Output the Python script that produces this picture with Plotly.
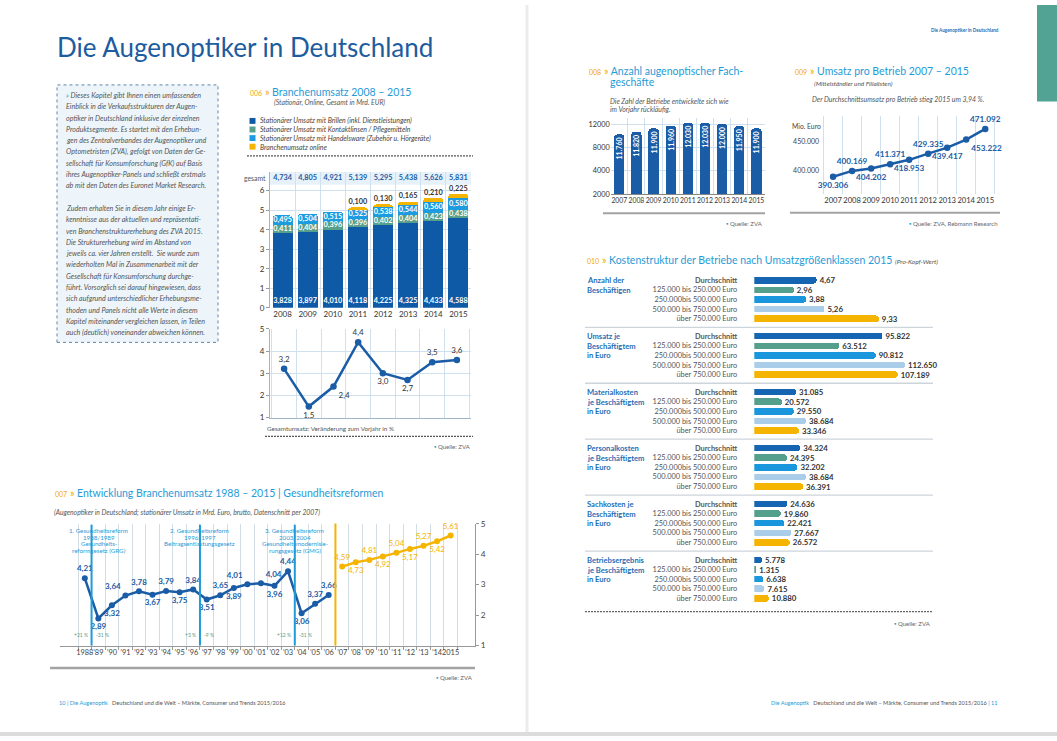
import numpy as np
import plotly.graph_objects as go

W, H = 1057, 741


def px(x):
    return x / W


def py(y):
    return 1 - y / H


FONT = "Lato"
TITLE_BLUE = "#1f9bd7"
ORANGE = "#f2a900"
NAVY = "#1a5ca5"
GRID = "#cfe0ee"
GRAY = "#4a4a4a"
YELLOW = "#f5b400"

# ---------------- DATA ----------------
# 006 Branchenumsatz 2008-2015 (Mrd. EUR)
YEARS_006 = ["2008", "2009", "2010", "2011", "2012", "2013", "2014", "2015"]
BRILLEN = [3.828, 3.897, 4.010, 4.118, 4.225, 4.325, 4.433, 4.588]
KONTAKTLINSEN = [0.411, 0.404, 0.396, 0.396, 0.402, 0.404, 0.423, 0.438]
HANDELSWARE = [0.495, 0.504, 0.515, 0.525, 0.538, 0.544, 0.560, 0.580]
ONLINE = [None, None, None, 0.100, 0.130, 0.165, 0.210, 0.225]
GESAMT = [4.734, 4.805, 4.921, 5.139, 5.295, 5.438, 5.626, 5.831]
VERAENDERUNG = [3.2, 1.5, 2.4, 4.4, 3.0, 2.7, 3.5, 3.6]
LEGEND_006 = [
    "Stationärer Umsatz mit Brillen (inkl. Dienstleistungen)",
    "Stationärer Umsatz mit Kontaktlinsen / Pflegemitteln",
    "Stationärer Umsatz mit Handelsware (Zubehör u. Hörgeräte)",
    "Branchenumsatz online",
]

# 007 Entwicklung Branchenumsatz 1988-2015
LABELS_007 = ["1988", "’89", "’90", "’91", "’92", "’93", "’94", "’95", "’96", "’97",
              "’98", "’99", "’00", "’01", "’02", "’03", "’04", "’05", "’06", "’07",
              "’08", "’09", "’10", "’11", "’12", "’13", "’14", "2015"]
UMSATZ_1988_2006 = [4.21, 2.89, 3.32, 3.64, 3.78, 3.67, 3.79, 3.75, 3.84, 3.51,
                    3.65, 3.89, 4.01, 4.04, 3.96, 4.44, 3.06, 3.37, 3.66]
UMSATZ_2007_2015 = [4.59, 4.73, 4.81, 4.92, 5.04, 5.17, 5.27, 5.42, 5.61]
Y_TICKS_007 = ["1", "2", "3", "4", "5"]
REFORM_TEXT = [
    ["1. Gesundheitsreform", "1988/1989", "Gesundheits-", "reformgesetz (GRG)"],
    ["2. Gesundheitsreform", "1996/1997", "Beitragsentlastungsgesetz"],
    ["3. Gesundheitsreform", "2003/2004", "Gesundheitsmodernisie-", "rungsgesetz (GMG)"],
]
REFORM_AFTER = ["1988", "’96", "’03"]
REFORM_PCT = [("+21 %", "-31 %"), ("+3 %", "-9 %"), ("+12 %", "-31 %")]

# 008 Anzahl augenoptischer Fachgeschäfte
YEARS_008 = ["2007", "2008", "2009", "2010", "2011", "2012", "2013", "2014", "2015"]
BETRIEBE = [11760, 11820, 11900, 11960, 12030, 12030, 12000, 11950, 11900]
TICKS_008 = ["2000", "4000", "8000", "12000"]

# 009 Umsatz pro Betrieb
YEARS_009 = YEARS_008
UMSATZ_BETRIEB = [390306, 400169, 404202, 411371, 418953, 429335, 439417, 453222, 471092]

# 010 Kostenstruktur
ROW_LABELS = ["Durchschnitt", "125.000 bis 250.000 Euro", "250.000bis 500.000 Euro",
              "500.000 bis 750.000 Euro", "über 750.000 Euro"]
GROUP_LABELS = [
    ["Anzahl der", "Beschäftigen"],
    ["Umsatz je", "Beschäftigtem", "in Euro"],
    ["Materialkosten", "je Beschäftigtem", "in Euro"],
    ["Personalkosten", "je Beschäftigtem", "in Euro"],
    ["Sachkosten je", "Beschäftigtem", "in Euro"],
    ["Betriebsergebnis", "je Beschäftigtem", "in Euro"],
]
ANZAHL = [4.67, 2.96, 3.88, 5.26, 9.33]
UMSATZ_JE = [95822, 63512, 90812, 112650, 107189]
MATERIAL = [31085, 20572, 29550, 38684, 33346]
PERSONAL = [34324, 24395, 32202, 38684, 36391]
SACHKOSTEN = [24636, 19860, 22421, 27667, 26572]
ERGEBNIS = [5778, 1315, 6638, 7615, 10880]
GROUP_VALUES = [ANZAHL, UMSATZ_JE, MATERIAL, PERSONAL, SACHKOSTEN, ERGEBNIS]

TEXT_P1 = [
    "Dieses Kapitel gibt Ihnen einen umfassenden",
    "Einblick in die Verkaufsstrukturen der Augen-",
    "optiker in Deutschland inklusive der einzelnen",
    "Produktsegmente. Es startet mit den Erhebun-",
    "gen des Zentralverbandes der Augenoptiker und",
    "Optometristen (ZVA), gefolgt von Daten der Ge-",
    "sellschaft für Konsumforschung (GfK) auf Basis",
    "ihres Augenoptiker-Panels und schließt erstmals",
    "ab mit den Daten des Euronet Market Research.",
]
TEXT_P2 = [
    "Zudem erhalten Sie in diesem Jahr einige Er-",
    "kenntnisse aus der aktuellen und repräsentati-",
    "ven Branchenstrukturerhebung des ZVA 2015.",
    "Die Strukturerhebung wird im Abstand von",
    "jeweils ca. vier Jahren erstellt.  Sie wurde zum",
    "wiederholten Mal in Zusammenarbeit mit der",
    "Gesellschaft für Konsumforschung durchge-",
    "führt. Vorsorglich sei darauf hingewiesen, dass",
    "sich aufgrund unterschiedlicher Erhebungsme-",
    "thoden und Panels nicht alle Werte in diesem",
    "Kapitel miteinander vergleichen lassen, in Teilen",
    "auch (deutlich) voneinander abweichen können.",
]


def de(v, d):
    s = f"{v:,.{d}f}"
    return s.replace(",", "X").replace(".", ",").replace("X", ".")


fig = go.Figure()
shapes, annos = [], []


def note(x, y, text, size=7, color=GRAY, xanchor="left", yanchor="middle", **kw):
    d = dict(x=px(x), y=py(y), xref="paper", yref="paper", text=text, showarrow=False,
             xanchor=xanchor, yanchor=yanchor, align="left",
             font=dict(size=size, color=color, family=FONT))
    d.update(kw)
    annos.append(d)


def hline(x0, x1, y, color, width=1.0, dash="solid"):
    shapes.append(dict(type="line", xref="paper", yref="paper", x0=px(x0), x1=px(x1),
                       y0=py(y), y1=py(y), line=dict(color=color, width=width, dash=dash)))


def title(x, y, num, text, extra=""):
    note(x, y, f"<span style='font-size:7px'>{num}</span> » "
               f"<span style='color:{TITLE_BLUE}'>{text}</span>{extra}",
         size=10.5, color=ORANGE)


def quelle(xr, y, text):
    note(xr, y, f"<span style='color:{TITLE_BLUE}'>▪</span> {text}", size=6,
         color="#666", xanchor="right")


def textrace(x, y, text, color, size, xa, ya, pos="middle center", bold=True):
    fig.add_trace(go.Scatter(x=x, y=y, mode="text", text=text, textposition=pos,
                             textfont=dict(size=size, color=color, family=FONT,
                                           weight="bold" if bold else "normal"),
                             xaxis=xa, yaxis=ya, cliponaxis=False, hoverinfo="skip"))


# ---------------- PAGE DECOR ----------------
note(55, 43, "Die Augenoptiker in Deutschland", size=26, color="#1d5c9e")
note(1001, 25, "<b>Die Augenoptiker in Deutschland</b>", size=4.6, color="#1f6db4",
     xanchor="right")
shapes.append(dict(type="rect", xref="paper", yref="paper", x0=px(1037), x1=1,
                   y0=py(97.7), y1=1, fillcolor="#52a393", line=dict(width=0)))
shapes.append(dict(type="rect", xref="paper", yref="paper", x0=0, x1=1,
                   y0=0, y1=py(737), fillcolor="#dcdcdc", line=dict(width=0)))
shapes.append(dict(type="line", xref="paper", yref="paper", x0=px(527), x1=px(527),
                   y0=py(737), y1=1, line=dict(color="#ececec", width=3)))

# text box
shapes.append(dict(type="rect", xref="paper", yref="paper", x0=px(57), x1=px(218),
                   y0=py(342), y1=py(81), fillcolor="#edf5fb",
                   line=dict(color="#5f86a8", width=1, dash="dot"), layer="below"))
lines = [f"<span style='color:{TITLE_BLUE}'>»</span> " + TEXT_P1[0]] + TEXT_P1[1:] + [""] + TEXT_P2
for i, ln in enumerate(lines):
    if ln:
        note(64, 91.7 + i * 11.45, f"<i>{ln}</i>", size=7.1, color="#555")

# footers
note(57, 706.7, f"<span style='color:{TITLE_BLUE}'>10 | Die Augenoptik</span>   "
                "Deutschland und die Welt – Märkte, Consumer und Trends 2015/2016",
     size=5.6, color="#555")
note(1000, 706.7, f"<span style='color:{TITLE_BLUE}'>Die Augenoptik</span>   "
                  f"Deutschland und die Welt – Märkte, Consumer und Trends 2015/2016 "
                  f"<span style='color:{TITLE_BLUE}'>| 11</span>",
     size=5.6, color="#555", xanchor="right")

# ---------------- 006 ----------------
title(248, 88, "006", "Branchenumsatz 2008 – 2015")
note(271.7, 99, "<i>(Stationär, Online, Gesamt in Mrd. EUR)</i>", size=6.8, color="#555")
SEG_COLORS = ["#0f5aa6", "#56a08c", "#1d9be0", YELLOW]
for i, (lab, col) in enumerate(zip(LEGEND_006, SEG_COLORS)):
    yy = 117.5 + i * 8.7
    shapes.append(dict(type="rect", xref="paper", yref="paper", x0=px(249.5), x1=px(255.5),
                       y0=py(yy + 3), y1=py(yy - 3), fillcolor=col, line=dict(width=0)))
    note(258, yy, f"<i>{lab}</i>", size=6.9, color="#444")
hline(247, 473, 153, "#555", 1.2, "2px,1px")

for vals, col in zip([BRILLEN, KONTAKTLINSEN, HANDELSWARE, ONLINE], SEG_COLORS):
    fig.add_trace(go.Bar(x=YEARS_006, y=vals, width=0.8, marker=dict(color=col, line=dict(width=0)),
                         xaxis="x", yaxis="y", hoverinfo="skip"))
b = np.array(BRILLEN)
k = np.array(KONTAKTLINSEN)
h = np.array(HANDELSWARE)
textrace(YEARS_006, [0.33] * len(YEARS_006), [de(v, 3) for v in BRILLEN], "white", 7.3, "x", "y")
textrace(YEARS_006, b + k / 2, [de(v, 3) for v in KONTAKTLINSEN], "white", 7.3, "x", "y")
textrace(YEARS_006, b + k + h / 2, [de(v, 3) for v in HANDELSWARE], "white", 7.3, "x", "y")
on_idx = [i for i, v in enumerate(ONLINE) if v]
textrace([YEARS_006[i] for i in on_idx], [GESAMT[i] + 0.27 for i in on_idx],
         [de(ONLINE[i], 3) for i in on_idx], "#333", 7.3, "x", "y")
textrace(YEARS_006, [6.63] * len(YEARS_006), [de(v, 3) for v in GESAMT], NAVY, 7.3, "x", "y")
note(268, 175.5, "gesamt", size=6.8, color="#555", xanchor="right")
shapes.append(dict(type="rect", xref="x domain", yref="y", x0=0, x1=1, y0=6.3, y1=6.97,
                   fillcolor="#e6f1fa", line=dict(width=0), layer="below"))

POS_006 = ["top center", "bottom center", "bottom right", "top center",
           "bottom center", "bottom center", "top center", "top center"]
fig.add_trace(go.Scatter(x=YEARS_006, y=VERAENDERUNG, mode="lines+markers+text",
                         text=[de(v, 1) for v in VERAENDERUNG], textposition=POS_006,
                         line=dict(color=NAVY, width=2.5), marker=dict(size=6.5, color=NAVY),
                         textfont=dict(size=8, color="#333", family=FONT),
                         xaxis="x2", yaxis="y2", cliponaxis=False, hoverinfo="skip"))
note(265, 429, "Gesamtumsatz: Veränderung zum Vorjahr in %", size=6.3, color="#555")
hline(265, 473, 437.3, "#555", 1.2, "2px,1px")
quelle(473, 448, "Quelle: ZVA")

# ---------------- 007 ----------------
title(52.7, 495, "007", "Entwicklung Branchenumsatz 1988 – 2015 | Gesundheitsreformen")
note(52, 514, "<i>(Augenoptiker in Deutschland; stationärer Umsatz in Mrd. Euro, brutto, "
              "Datenschnitt per 2007)</i>", size=6.8, color="#555")
n_old = len(UMSATZ_1988_2006)
POS_OLD = ["top center", "bottom center", "bottom center", "top left", "top center",
           "bottom center", "top center", "bottom center", "top center", "bottom center",
           "top center", "bottom center", "top left", "top right", "bottom center",
           "top center", "bottom center", "top center", "top center"]
POS_NEW = ["top center", "bottom center"] * 4 + ["top center"]
fig.add_trace(go.Scatter(x=LABELS_007[:n_old], y=UMSATZ_1988_2006, mode="lines+markers+text",
                         text=[de(v, 2) for v in UMSATZ_1988_2006], textposition=POS_OLD,
                         line=dict(color=NAVY, width=2.5), marker=dict(size=6, color=NAVY),
                         textfont=dict(size=8, color=NAVY, family=FONT, weight="bold"),
                         xaxis="x3", yaxis="y3", cliponaxis=False, hoverinfo="skip"))
fig.add_trace(go.Scatter(x=LABELS_007[n_old:], y=UMSATZ_2007_2015, mode="lines+markers+text",
                         text=[de(v, 2) for v in UMSATZ_2007_2015], textposition=POS_NEW,
                         line=dict(color=YELLOW, width=2.5), marker=dict(size=6, color=YELLOW),
                         textfont=dict(size=8, color=YELLOW, family=FONT),
                         xaxis="x3", yaxis="y3", cliponaxis=False, hoverinfo="skip"))
for j, (after, txtl, pct) in enumerate(zip(REFORM_AFTER, REFORM_TEXT, REFORM_PCT)):
    xi = LABELS_007.index(after) + 0.5
    shapes.append(dict(type="line", xref="x3", yref="y3 domain", x0=xi, x1=xi, y0=0, y1=0.99,
                       line=dict(color=TITLE_BLUE, width=2)))
    for i, t in enumerate(txtl):
        annos.append(dict(x=xi, y=py(532.7 + i * 6.6), xref="x3", yref="paper", text=t,
                          showarrow=False, xanchor="center", yanchor="middle",
                          xshift=7 if j == 0 else 0,
                          font=dict(size=6.2, color=TITLE_BLUE, family=FONT)))
    annos.append(dict(x=xi, y=py(644), xref="x3", yref="paper", text=pct[0], showarrow=False,
                      xanchor="right", xshift=-2, font=dict(size=5, color="#5a9b80", family=FONT)))
    annos.append(dict(x=xi, y=py(644), xref="x3", yref="paper", text=pct[1], showarrow=False,
                      xanchor="left", xshift=2, font=dict(size=5, color="#5a9b80", family=FONT)))
xcut = n_old - 0.5
shapes.append(dict(type="line", xref="x3", yref="y3 domain", x0=xcut, x1=xcut, y0=0, y1=1,
                   line=dict(color=YELLOW, width=2)))
hline(50, 475, 672, "#a3a3a3", 2.5)
quelle(475, 682, "Quelle: ZVA")

# ---------------- 008 ----------------
title(586.7, 66.7, "008", "Anzahl augenoptischer Fach-")
note(608.3, 78.3, "geschäfte", size=10.5, color=TITLE_BLUE)
note(608.3, 97.7, "<i>Die Zahl der Betriebe entwickelte sich wie</i>", size=6.9, color="#555")
note(608.3, 105.2, "<i>im Vorjahr rückläufig.</i>", size=6.9, color="#555")
fig.add_trace(go.Bar(x=YEARS_008, y=BETRIEBE, width=0.6, marker=dict(color=NAVY, line=dict(width=0)),
                     text=[de(v, 0) for v in BETRIEBE], textposition="inside",
                     insidetextanchor="end", textangle=-90, constraintext="none",
                     textfont=dict(size=7, color="white", family=FONT, weight="bold"),
                     xaxis="x4", yaxis="y4", hoverinfo="skip"))
tick_step_008 = 538
tickvals_008 = [int(TICKS_008[-1]) - tick_step_008 * (len(TICKS_008) - 1 - i) for i in range(len(TICKS_008))]
hline(603, 765, 211, "#a3a3a3", 2)
quelle(765, 221.7, "Quelle: ZVA")

# ---------------- 009 ----------------
title(793.3, 66.7, "009", "Umsatz pro Betrieb 2007 – 2015")
note(811.7, 80, "<i>(Mittelständler und Filialisten)</i>", size=6.4, color="#555")
note(810, 96, "<i>Der Durchschnittsumsatz pro Betrieb stieg 2015 um 3,94 %.</i>", size=6.9, color="#555")
note(790, 122.7, "Mio. Euro", size=6.8, color="#444")
POS_009 = ["bottom center", "top center", "bottom center", "top center", "bottom center",
           "top center", "bottom center", "bottom right", "top center"]
fig.add_trace(go.Scatter(x=YEARS_009, y=UMSATZ_BETRIEB, mode="lines+markers+text",
                         text=[de(v, 0) for v in UMSATZ_BETRIEB], textposition=POS_009,
                         line=dict(color=NAVY, width=2.5), marker=dict(size=6.5, color=NAVY),
                         textfont=dict(size=8.2, color=NAVY, family=FONT, weight="bold"),
                         xaxis="x5", yaxis="y5", cliponaxis=False, hoverinfo="skip"))
hline(790, 1000, 210.7, "#a3a3a3", 2)
quelle(1000, 221.7, "Quelle: ZVA, Rebmann Research")

# ---------------- 010 ----------------
title(585, 258.3, "010", "Kostenstruktur der Betriebe nach Umsatzgrößenklassen 2015",
      extra=" <span style='font-size:6.5px;color:#555'><i>(Pro-Kopf-Wert)</i></span>")
ROW_COLORS = ["#1565b2", "#55a08d", "#1a97dc", "#aacdea", YELLOW]
ROW_STEP, GROUP_STEP, FIRST_ROW = 9.75, 56.7, 279
axes = {}
for g, vals in enumerate(GROUP_VALUES):
    ax = 6 + g
    dec = 2 if g == 0 else 0
    fig.add_trace(go.Bar(y=ROW_LABELS, x=vals, orientation="h", width=0.68,
                         marker=dict(color=ROW_COLORS, line=dict(width=0)),
                         text=[de(v, dec) for v in vals], textposition="outside",
                         constraintext="none",
                         textfont=dict(size=7.8, color="#333", family=FONT, weight="bold"),
                         xaxis=f"x{ax}", yaxis=f"y{ax}", cliponaxis=False, hoverinfo="skip"))
    top = FIRST_ROW + g * GROUP_STEP - ROW_STEP / 2
    bottom = top + 5 * ROW_STEP
    xmax = 245.7 / 13.35 if g == 0 else 245.7 / 1.338 * 1000
    axes[f"xaxis{ax}"] = dict(domain=[px(754.3), px(1000)], anchor=f"y{ax}", range=[0, xmax],
                              visible=False, fixedrange=True)
    axes[f"yaxis{ax}"] = dict(domain=[py(bottom), py(top)], anchor=f"x{ax}", type="category",
                              categoryarray=ROW_LABELS, autorange="reversed",
                              tickmode="array", tickvals=ROW_LABELS,
                              ticktext=["<b>" + ROW_LABELS[0] + "</b>"] + ROW_LABELS[1:],
                              ticks="", showgrid=False, showline=False, zeroline=False,
                              ticklabelstandoff=16, tickfont=dict(size=7.4, color="#555"),
                              fixedrange=True)
    for i, t in enumerate(GROUP_LABELS[g]):
        note(585, FIRST_ROW + g * GROUP_STEP + i * ROW_STEP, f"<b>{t}</b>", size=7.6, color="#1f6db4")
    if g < 5:
        hline(585, 933, FIRST_ROW + g * GROUP_STEP + 4 * ROW_STEP + 8.7, "#cdd5dc", 1.3)
hline(585, 933, 615, "#666", 1.2, "2px,1px")
quelle(933, 626.7, "Quelle: ZVA")

# ---------------- AXES ----------------
tickf = dict(size=8, color="#333", family=FONT)
axes.update(
    xaxis=dict(domain=[px(270), px(471)], anchor="y", type="category", tickson="boundaries",
               showgrid=True, gridcolor=GRID, ticks="", tickangle=0, tickfont=tickf, showline=False,
               zeroline=False, fixedrange=True),
    yaxis=dict(domain=[py(307), py(169)], anchor="x", range=[0, 6.97], tickvals=list(range(7)),
               showgrid=True, gridcolor=GRID, ticks="outside", ticklen=3, tickcolor="#999",
               tickfont=tickf, showline=True, linecolor="#9fb6c8", zeroline=False, fixedrange=True),
    xaxis2=dict(domain=[px(270), px(471)], anchor="y2", type="category", tickson="boundaries",
                showgrid=True, gridcolor=GRID, ticks="", showticklabels=False, showline=True,
                linecolor="#9fb6c8", zeroline=False, fixedrange=True),
    yaxis2=dict(domain=[py(418.3), py(328.3)], anchor="x2", range=[1, 5], dtick=1,
                showgrid=True, gridcolor=GRID, ticks="outside", ticklen=3, tickcolor="#999",
                tickfont=tickf, showline=True, linecolor="#9fb6c8", zeroline=False, fixedrange=True),
    xaxis3=dict(domain=[px(60.3), px(475.1)], anchor="y3", type="category", tickson="boundaries",
                showgrid=True, gridcolor="#d3dde6", ticks="outside", ticklen=3, tickcolor="#999",
                tickangle=0, tickfont=dict(size=7.4, color="#444", family=FONT), showline=True,
                linecolor="#999", zeroline=False, fixedrange=True),
    yaxis3=dict(domain=[py(649.3), py(525.7)], anchor="x3", side="right", range=[2, 6],
                tickvals=[int(t) + 1 for t in Y_TICKS_007], ticktext=Y_TICKS_007,
                showgrid=False, ticks="outside", ticklen=3, tickcolor="#999",
                tickfont=dict(size=8.3, color="#444", family=FONT), showline=True,
                linecolor="#999", zeroline=False, fixedrange=True),
    xaxis4=dict(domain=[px(610.7), px(765)], anchor="y4", type="category", tickson="boundaries",
                showgrid=True, gridcolor=GRID, ticks="", tickangle=0,
                tickfont=dict(size=6.8, color="#333", family=FONT),
                showline=True, linecolor="#888", zeroline=False, fixedrange=True),
    yaxis4=dict(domain=[py(191.7), py(115)], anchor="x4", range=[tickvals_008[0], 12130],
                tickvals=tickvals_008, ticktext=TICKS_008, showgrid=True, gridcolor=GRID,
                ticks="", tickfont=dict(size=7.3, color="#333", family=FONT), showline=False,
                zeroline=False, fixedrange=True),
    xaxis5=dict(domain=[px(820.1), px(998.2)], anchor="y5", type="category", tickson="boundaries",
                showgrid=True, gridcolor=GRID, ticks="", tickangle=0,
                tickfont=dict(size=7.6, color="#333", family=FONT),
                showline=False, zeroline=False, fixedrange=True),
    yaxis5=dict(domain=[py(191.7), py(113)], anchor="x5", range=[361000, 492167],
                tickvals=[400000, 450000], tickformat=",d", showgrid=False, ticks="",
                tickfont=dict(size=7, color="#444", family=FONT), showline=False,
                zeroline=False, fixedrange=True),
)

fig.update_layout(
    width=W, height=H, margin=dict(l=0, r=0, t=0, b=0, pad=0),
    paper_bgcolor="white", plot_bgcolor="rgba(0,0,0,0)",
    font=dict(family=FONT, color=GRAY), showlegend=False, barmode="stack",
    barcornerradius=3, separators=",.", hovermode=False,
    shapes=shapes, annotations=annos, **axes,
)
fig.write_html("out.html", config={"displayModeBar": False},
               post_script="document.body.style.margin='0';"
                           "document.body.style.overflow='hidden';")
